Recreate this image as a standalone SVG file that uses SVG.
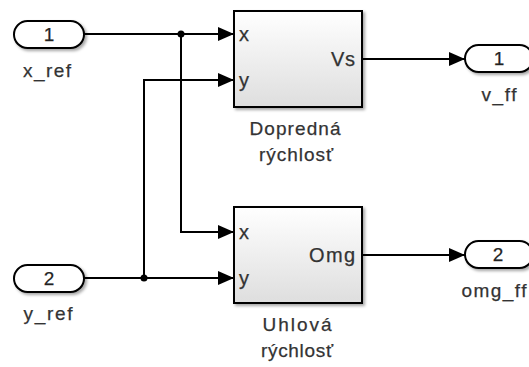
<svg xmlns="http://www.w3.org/2000/svg" width="529" height="367" viewBox="0 0 529 367">
<defs>
<linearGradient id="bg" x1="0" y1="0" x2="0" y2="1">
<stop offset="0" stop-color="#ffffff"/>
<stop offset="1" stop-color="#dedede"/>
</linearGradient>
<filter id="sh" x="-20%" y="-20%" width="140%" height="140%">
<feDropShadow dx="2" dy="2" stdDeviation="1.5" flood-color="#000" flood-opacity="0.35"/>
</filter>
<marker id="ar" markerWidth="16" markerHeight="14" refX="16" refY="7" orient="auto" markerUnits="userSpaceOnUse">
<path d="M0,0 L16,7 L0,14 Z" fill="#000"/>
</marker>
</defs>
<style>
text{font-family:"Liberation Sans",Arial,sans-serif;fill:#333;stroke:#333;stroke-width:0.25}
.lbl{font-size:19px;text-anchor:middle}
.num{font-size:19px;text-anchor:middle;fill:#222}
.port{font-size:20px}
.pill{fill:#fff;stroke:#000;stroke-width:2;filter:url(#sh)}
.blk{fill:url(#bg);stroke:#000;stroke-width:2;filter:url(#sh)}
.ln{fill:none;stroke:#000;stroke-width:2}
</style>
<rect width="529" height="367" fill="#fff"/>
<g id="connectors">
<path class="ln" d="M84,34 H234" marker-end="url(#ar)"/>
<path class="ln" d="M181,34 V232 H234" marker-end="url(#ar)"/>
<path class="ln" d="M84,278 H234" marker-end="url(#ar)"/>
<path class="ln" d="M144,278 V80 H234" marker-end="url(#ar)"/>
<path class="ln" d="M362,59 H465" marker-end="url(#ar)"/>
<path class="ln" d="M362,255 H465" marker-end="url(#ar)"/>
<circle cx="181" cy="34" r="3.5" fill="#000"/>
<circle cx="144" cy="278" r="3.5" fill="#000"/>
</g>
<g id="x_ref">
<rect class="pill" x="14" y="21" width="70" height="27" rx="13.5"/>
<text class="num" x="49" y="41">1</text>
<text class="lbl" x="47" y="77" textLength="48" lengthAdjust="spacing">x_ref</text>
</g>
<g id="y_ref">
<rect class="pill" x="14" y="265" width="70" height="27" rx="13.5"/>
<text class="num" x="49" y="285">2</text>
<text class="lbl" x="48" y="320" textLength="49" lengthAdjust="spacing">y_ref</text>
</g>
<g id="dopredna">
<rect class="blk" x="234" y="11" width="128" height="96"/>
<text class="port" x="239" y="41">x</text>
<text class="port" x="239" y="87">y</text>
<text class="port" x="355" y="66" text-anchor="end" textLength="24" lengthAdjust="spacing">Vs</text>
<text class="lbl" x="295" y="135" textLength="91" lengthAdjust="spacing">Dopredná</text>
<text class="lbl" x="296" y="161" textLength="74" lengthAdjust="spacing">rýchlosť</text>
</g>
<g id="uhlova">
<rect class="blk" x="234" y="207" width="128" height="96"/>
<text class="port" x="239" y="239">x</text>
<text class="port" x="239" y="285">y</text>
<text class="port" x="355" y="262" text-anchor="end" textLength="46" lengthAdjust="spacing">Omg</text>
<text class="lbl" x="297" y="331" textLength="69" lengthAdjust="spacing">Uhlová</text>
<text class="lbl" x="297" y="357" textLength="72" lengthAdjust="spacing">rýchlosť</text>
</g>
<g id="v_ff">
<rect class="pill" x="465" y="45" width="68" height="27" rx="13.5"/>
<text class="num" x="499" y="65">1</text>
<text class="lbl" x="499" y="101" textLength="35" lengthAdjust="spacing">v_ff</text>
</g>
<g id="omg_ff">
<rect class="pill" x="465" y="241" width="68" height="27" rx="13.5"/>
<text class="num" x="498" y="261">2</text>
<text class="lbl" x="494" y="297" textLength="65" lengthAdjust="spacing">omg_ff</text>
</g>
</svg>
